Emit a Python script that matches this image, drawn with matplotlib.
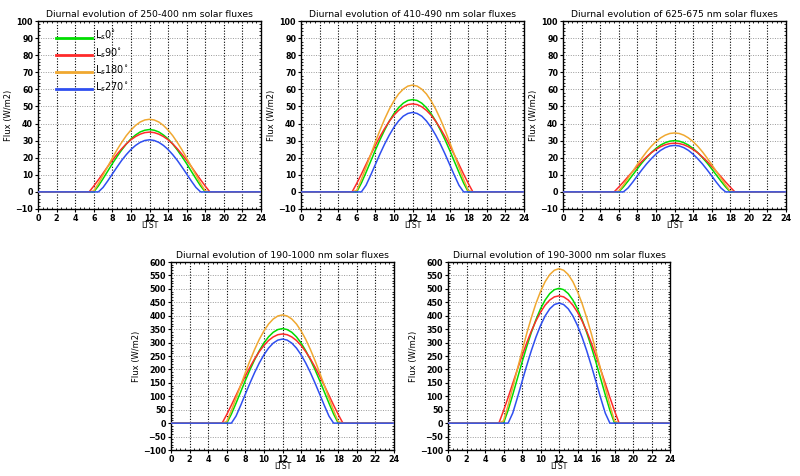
import matplotlib
matplotlib.use("Agg")
import matplotlib.pyplot as plt
from matplotlib.ticker import MultipleLocator

hours = [0, 5, 5.5, 6, 6.5, 7, 7.5, 8, 8.5, 9, 9.5, 10, 10.5, 11, 11.5, 12,
         12.5, 13, 13.5, 14, 14.5, 15, 15.5, 16, 16.5, 17, 17.5, 18, 18.5, 19, 24]

titles = ["Diurnal evolution of 250-400 nm solar fluxes",
          "Diurnal evolution of 410-490 nm solar fluxes",
          "Diurnal evolution of 625-675 nm solar fluxes",
          "Diurnal evolution of 190-1000 nm solar fluxes",
          "Diurnal evolution of 190-3000 nm solar fluxes"]

labels = ["L$_s$0$^{\\circ}$", "L$_s$90$^{\\circ}$", "L$_s$180$^{\\circ}$", "L$_s$270$^{\\circ}$"]
colors = ["#00dd00", "#ff2a2a", "#f0a830", "#2f4ff0"]

# panel 1: 250-400 nm
p1_ls0 = [0, 0, 0, 0, 3.5, 7.7, 12.1, 16.5, 20.6, 24.5, 28.0, 31.0, 33.3, 35.1, 36.1, 36.5,
          36.1, 35.1, 33.3, 31.0, 28.0, 24.5, 20.6, 16.5, 12.1, 7.7, 3.5, 0, 0, 0, 0]
p1_ls90 = [0, 0, 0, 3.4, 7.1, 10.9, 14.8, 18.5, 22.0, 25.2, 28.1, 30.5, 32.4, 33.8, 34.7, 35.0,
           34.7, 33.8, 32.4, 30.5, 28.1, 25.2, 22.0, 18.5, 14.8, 10.9, 7.1, 3.4, 0, 0, 0]
p1_ls180 = [0, 0, 0, 0.6, 4.9, 9.8, 14.8, 19.8, 24.6, 28.9, 32.9, 36.2, 38.9, 40.9, 42.1, 42.5,
            42.1, 40.9, 38.9, 36.2, 32.9, 28.9, 24.6, 19.8, 14.8, 9.8, 4.9, 0.6, 0, 0, 0]
p1_ls270 = [0, 0, 0, 0, 0, 2.6, 6.4, 10.5, 14.5, 18.4, 21.8, 24.8, 27.2, 29.0, 30.1, 30.5,
            30.1, 29.0, 27.2, 24.8, 21.8, 18.4, 14.5, 10.5, 6.4, 2.6, 0, 0, 0, 0, 0]

# panel 2: 410-490 nm
p2_ls0 = [0, 0, 0, 0, 5.2, 11.4, 17.9, 24.4, 30.5, 36.2, 41.4, 45.8, 49.3, 51.9, 53.5, 54.0,
          53.5, 51.9, 49.3, 45.8, 41.4, 36.2, 30.5, 24.4, 17.9, 11.4, 5.2, 0, 0, 0, 0]
p2_ls90 = [0, 0, 0, 5.0, 10.4, 16.1, 21.7, 27.2, 32.4, 37.1, 41.3, 44.9, 47.7, 49.8, 51.1, 51.5,
           51.1, 49.8, 47.7, 44.9, 41.3, 37.1, 32.4, 27.2, 21.7, 16.1, 10.4, 5.0, 0, 0, 0]
p2_ls180 = [0, 0, 0, 0.9, 7.3, 14.4, 21.8, 29.1, 36.1, 42.6, 48.4, 53.3, 57.3, 60.1, 61.9, 62.5,
            61.9, 60.1, 57.3, 53.3, 48.4, 42.6, 36.1, 29.1, 21.8, 14.4, 7.3, 0.9, 0, 0, 0]
p2_ls270 = [0, 0, 0, 0, 0, 3.9, 9.8, 16.0, 22.2, 28.0, 33.2, 37.8, 41.5, 44.3, 45.9, 46.5,
            45.9, 44.3, 41.5, 37.8, 33.2, 28.0, 22.2, 16.0, 9.8, 3.9, 0, 0, 0, 0, 0]

# panel 3: 625-675 nm
p3_ls0 = [0, 0, 0, 0, 2.9, 6.3, 9.9, 13.5, 17.0, 20.1, 23.0, 25.4, 27.4, 28.8, 29.7, 30.0,
          29.7, 28.8, 27.4, 25.4, 23.0, 20.1, 17.0, 13.5, 9.9, 6.3, 2.9, 0, 0, 0, 0]
p3_ls90 = [0, 0, 0, 2.8, 5.8, 8.9, 12.0, 15.0, 17.9, 20.5, 22.9, 24.8, 26.4, 27.6, 28.3, 28.5,
           28.3, 27.6, 26.4, 24.8, 22.9, 20.5, 17.9, 15.0, 12.0, 8.9, 5.8, 2.8, 0, 0, 0]
p3_ls180 = [0, 0, 0, 0.5, 4.0, 8.0, 12.0, 16.1, 19.9, 23.5, 26.7, 29.4, 31.6, 33.2, 34.2, 34.5,
            34.2, 33.2, 31.6, 29.4, 26.7, 23.5, 19.9, 16.1, 12.0, 8.0, 4.0, 0.5, 0, 0, 0]
p3_ls270 = [0, 0, 0, 0, 0, 2.3, 5.7, 9.4, 13.0, 16.4, 19.4, 22.1, 24.3, 25.9, 26.9, 27.2,
            26.9, 25.9, 24.3, 22.1, 19.4, 16.4, 13.0, 9.4, 5.7, 2.3, 0, 0, 0, 0, 0]

# panel 4: 190-1000 nm
p4_ls0 = [0, 0, 0, 0, 33.8, 74.3, 116.5, 158.8, 198.9, 236.2, 269.6, 298.5, 321.4, 338.3, 348.5, 352.0,
          348.5, 338.3, 321.4, 298.5, 269.6, 236.2, 198.9, 158.8, 116.5, 74.3, 33.8, 0, 0, 0, 0]
p4_ls90 = [0, 0, 0, 32.2, 67.1, 103.6, 140.1, 175.3, 208.8, 239.4, 266.3, 289.2, 307.8, 321.0, 329.3, 332.0,
           329.3, 321.0, 307.8, 289.2, 266.3, 239.4, 208.8, 175.3, 140.1, 103.6, 67.1, 32.2, 0, 0, 0]
p4_ls180 = [0, 0, 0, 6.0, 46.7, 93.1, 140.6, 187.8, 232.9, 274.4, 311.9, 343.4, 369.1, 387.7, 399.0, 403.0,
            399.0, 387.7, 369.1, 343.4, 311.9, 274.4, 232.9, 187.8, 140.6, 93.1, 46.7, 6.0, 0, 0, 0]
p4_ls270 = [0, 0, 0, 0, 0, 26.3, 66.0, 108.0, 149.3, 188.4, 223.8, 254.5, 279.5, 298.0, 309.2, 313.0,
            309.2, 298.0, 279.5, 254.5, 223.8, 188.4, 149.3, 108.0, 66.0, 26.3, 0, 0, 0, 0, 0]

# panel 5: 190-3000 nm
p5_ls0 = [0, 0, 0, 0, 48.2, 105.9, 166.2, 226.4, 283.6, 336.8, 384.5, 425.7, 458.3, 482.4, 497.0, 502.0,
          497.0, 482.4, 458.3, 425.7, 384.5, 336.8, 283.6, 226.4, 166.2, 105.9, 48.2, 0, 0, 0, 0]
p5_ls90 = [0, 0, 0, 46.0, 95.7, 147.9, 200.0, 250.3, 298.1, 341.8, 380.1, 412.9, 439.4, 458.4, 470.2, 474.0,
           470.2, 458.4, 439.4, 412.9, 380.1, 341.8, 298.1, 250.3, 200.0, 147.9, 95.7, 46.0, 0, 0, 0]
p5_ls180 = [0, 0, 0, 8.6, 66.7, 132.8, 200.7, 268.0, 332.4, 391.6, 445.1, 489.9, 526.7, 553.2, 569.3, 575.0,
            569.3, 553.2, 526.7, 489.9, 445.1, 391.6, 332.4, 268.0, 200.7, 132.8, 66.7, 8.6, 0, 0, 0]
p5_ls270 = [0, 0, 0, 0, 0, 37.5, 94.3, 154.2, 213.2, 269.1, 319.6, 363.4, 399.2, 425.6, 441.6, 447.0,
            441.6, 425.6, 399.2, 363.4, 319.6, 269.1, 213.2, 154.2, 94.3, 37.5, 0, 0, 0, 0, 0]

panels = [
    (titles[0], [p1_ls0, p1_ls90, p1_ls180, p1_ls270], (-10, 100, 10)),
    (titles[1], [p2_ls0, p2_ls90, p2_ls180, p2_ls270], (-10, 100, 10)),
    (titles[2], [p3_ls0, p3_ls90, p3_ls180, p3_ls270], (-10, 100, 10)),
    (titles[3], [p4_ls0, p4_ls90, p4_ls180, p4_ls270], (-100, 600, 50)),
    (titles[4], [p5_ls0, p5_ls90, p5_ls180, p5_ls270], (-100, 600, 50)),
]

W, H = 800, 476
boxes = [(38, 21, 261, 209), (301, 21, 524, 209), (563, 21, 786, 209),
         (171, 262, 394, 450), (448, 262, 670, 450)]

fig = plt.figure(figsize=(W / 100, H / 100), dpi=100)
fig.patch.set_facecolor("white")

for i, ((title, series, (ymin, ymax, ystep)), (l, t, r, b)) in enumerate(zip(panels, boxes)):
    ax = fig.add_axes([l / W, 1 - b / H, (r - l) / W, (b - t) / H])
    ax.set_xlim(0, 24)
    ax.set_ylim(ymin, ymax)
    ax.set_xticks(range(0, 25, 2))
    ax.set_yticks(range(ymin, ymax + 1, ystep))
    ax.xaxis.set_minor_locator(MultipleLocator(0.5))
    ax.yaxis.set_minor_locator(MultipleLocator(ystep / 5))
    for x in range(2, 24, 2):
        ax.axvline(x, color="black", lw=0.8, ls=(0, (1, 1.5)), zorder=1)
    for y in range(ymin + ystep, ymax, ystep):
        ax.axhline(y, color="#999999", lw=0.7, ls=(0, (1, 1.5)), zorder=1)
    for k in range(4):
        ax.plot(hours, series[k], color=colors[k], lw=1.1, zorder=3)
    ax.tick_params(axis="both", which="major", direction="out", length=2.5, width=0.8,
                   labelsize=5.8, pad=1)
    ax.tick_params(axis="both", which="minor", direction="in", length=1.5, width=0.6,
                   top=True, right=True)
    for lab in ax.get_xticklabels() + ax.get_yticklabels():
        lab.set_fontweight("bold")
    for s in ax.spines.values():
        s.set_linewidth(1.0)
    ax.set_title(title, fontsize=6.7, pad=3)
    ax.set_ylabel("Flux (W/m2)", fontsize=6, labelpad=1.5)
    ax.set_xlabel("LTST", fontsize=5.5, labelpad=-1)
    if i == 0:
        for k in range(4):
            yv = 90 - 10 * k
            ax.plot([1.9, 5.85], [yv, yv], color=colors[k], lw=2.0, zorder=4)
            ax.text(6.15, yv + 1.5, labels[k], fontsize=7, va="center", ha="left", zorder=4)

fig.savefig("out.png", dpi=100, facecolor="white")
